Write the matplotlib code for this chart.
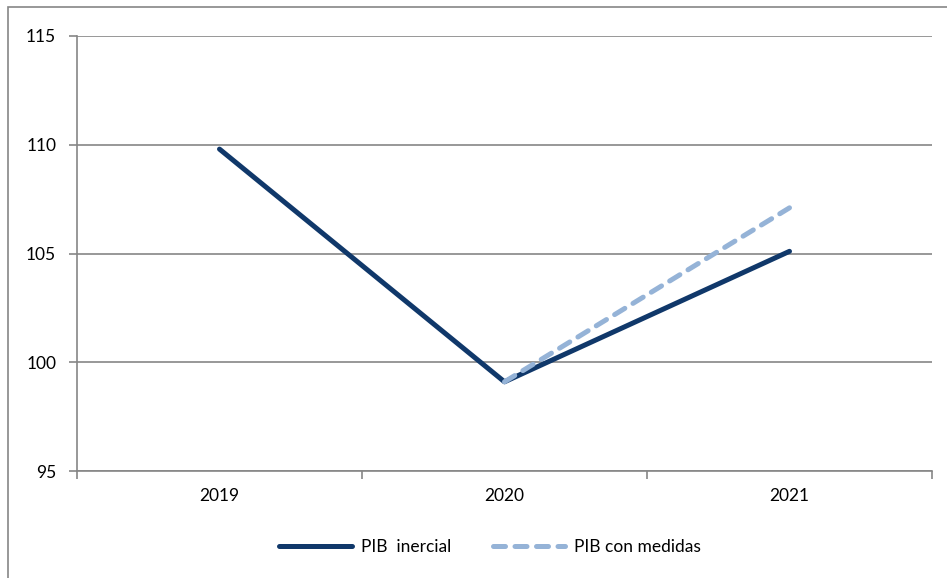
import matplotlib.pyplot as plt
from matplotlib.patches import Rectangle

years = ["2019", "2020", "2021"]
pib_inercial = [109.8, 99.1, 105.1]
pib_medidas = [None, 99.1, 107.1]
y_ticks = [95, 100, 105, 110, 115]

plt.rcParams['font.family'] = ['Lato', 'DejaVu Sans']

fig = plt.figure(figsize=(9.47, 5.78), dpi=100)
W, H = 947, 578
ax = fig.add_axes([77 / W, 1 - 471 / H, (932 - 77) / W, (471 - 36) / H])

# outer chart border
fig.patches.append(Rectangle((8 / W, -0.05), 1.1, 1 - 7 / H + 0.05,
                             transform=fig.transFigure, fill=False,
                             edgecolor='#868686', linewidth=1.2))

grey = '#868686'
x = list(range(len(years)))
ax.plot(x, pib_inercial, color='#10386A', linewidth=3.6,
        solid_capstyle='round', label='PIB  inercial', zorder=3)
xm = [i for i, v in zip(x, pib_medidas) if v is not None]
ym = [v for v in pib_medidas if v is not None]
ax.plot(xm, ym, color='#95B3D7', linewidth=3.6, linestyle=(0, (2.4, 1.9)),
        dash_capstyle='round', label='PIB con medidas', zorder=4)

ax.set_xlim(-0.5, 2.5)
ax.set_ylim(95, 115)
ax.set_yticks(y_ticks)
ax.set_yticklabels([str(t) for t in y_ticks], fontsize=12.5)
ax.set_xticks(x)
ax.set_xticklabels(years, fontsize=12.5)
ax.set_xticks([-0.5, 0.5, 1.5, 2.5], minor=True)
ax.tick_params(axis='x', which='major', length=0, pad=12)
ax.tick_params(axis='x', which='minor', length=6, color=grey, width=1.2)
ax.tick_params(axis='y', length=6, color=grey, width=1.2, pad=9)

ax.yaxis.grid(True, color=grey, linewidth=1.2)
ax.set_axisbelow(True)
for s in ['top', 'right']:
    ax.spines[s].set_visible(False)
for s in ['left', 'bottom']:
    ax.spines[s].set_color(grey)
    ax.spines[s].set_linewidth(1.2)

fig.legend(loc='center', bbox_to_anchor=(490 / W, 1 - 547 / H), ncol=2,
           frameon=False, fontsize=12.5, handlelength=4.2, columnspacing=2.4,
           handletextpad=0.5)

fig.savefig('out.png', dpi=100)
